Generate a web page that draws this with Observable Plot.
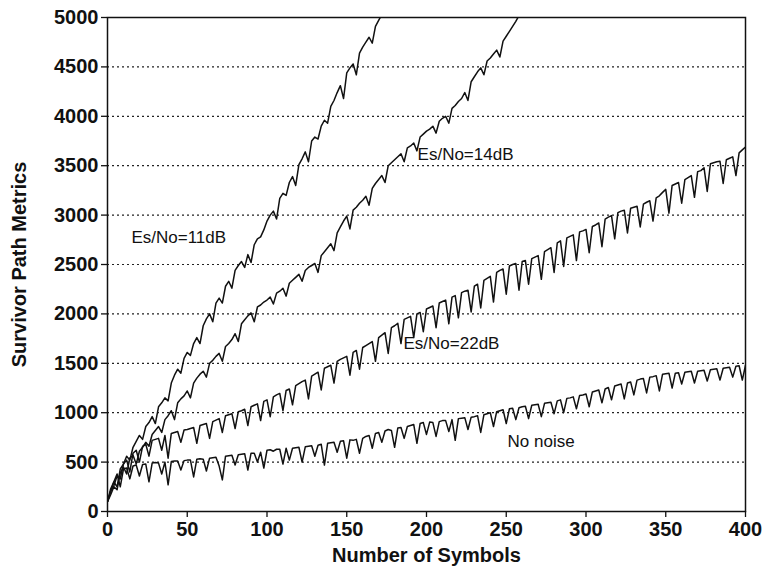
<!DOCTYPE html>
<html>
<head>
<meta charset="utf-8">
<script src="https://cdn.jsdelivr.net/npm/d3@7"></script>
<script src="https://cdn.jsdelivr.net/npm/@observablehq/plot@0.6"></script>
<style>
  body { margin: 0; background: #fff; }
</style>
</head>
<body>
<div id="chart"></div>
<script>
// Survivor path metric sampled every 2 symbols, one array per Es/No condition.
const symbolStep = 2;

const noNoise = [
  100, 230, 300, 380, 250, 430, 440, 330, 460, 470, 360,
  475, 480, 300, 490, 495, 490, 380, 500, 270, 505,
  510, 510, 420, 515, 520, 520, 350, 530, 535, 530,
  410, 540, 545, 550, 460, 320, 560, 565, 570, 470,
  575, 580, 585, 420, 590, 590, 500, 600, 440, 620,
  625, 610, 630, 630, 480, 640, 520, 640, 645, 650,
  500, 655, 660, 665, 560, 670, 680, 470, 690, 695,
  700, 600, 710, 715, 540, 725, 720, 730, 590, 740,
  760, 770, 640, 790, 800, 700, 815, 830, 820, 650,
  845, 850, 740, 860, 870, 880, 690, 890, 900, 780,
  905, 900, 760, 910, 920, 920, 810, 930, 720, 940,
  945, 950, 830, 955, 960, 970, 800, 980, 990, 1000,
  860, 1010, 1020, 1030, 890, 1040, 1045, 930, 1050, 1060,
  1065, 940, 1075, 1080, 1085, 960, 1095, 1100, 1105, 990,
  1120, 1130, 1000, 1145, 1150, 1160, 1040, 1175, 1180, 1190,
  1060, 1210, 1220, 1230, 1100, 1240, 1255, 1130, 1270, 1280,
  1290, 1140, 1300, 1310, 1180, 1330, 1340, 1345, 1200, 1360,
  1365, 1375, 1220, 1390, 1395, 1400, 1250, 1400, 1405, 1290,
  1410, 1415, 1420, 1300, 1420, 1425, 1430, 1320, 1435, 1440,
  1445, 1330, 1450, 1455, 1460, 1360, 1470, 1475, 1330, 1480
];

const esNo22 = [
  100, 200, 300, 250, 430, 480, 520, 400, 590, 620, 500,
  660, 680, 560, 720, 730, 740, 620, 770, 540, 790,
  800, 810, 700, 825, 830, 840, 850, 690, 870, 880,
  890, 740, 910, 925, 940, 800, 970, 980, 990, 840,
  1010, 1020, 1035, 870, 1060, 1075, 1090, 920, 1115, 1130,
  960, 1160, 1180, 1195, 1020, 1225, 1240, 1080, 1275, 1295,
  1315, 1330, 1140, 1370, 1390, 1410, 1230, 1450, 1465, 1480,
  1300, 1520, 1540, 1555, 1570, 1380, 1610, 1630, 1440, 1660,
  1680, 1700, 1720, 1520, 1760, 1785, 1810, 1600, 1860, 1880,
  1905, 1700, 1945, 1960, 1975, 1760, 2000, 2015, 1820, 2050,
  2065, 2080, 1860, 2110, 2125, 2140, 1900, 2170, 2185, 1960,
  2215, 2230, 2240, 2020, 2280, 2300, 2060, 2340, 2360, 2380,
  2120, 2420, 2440, 2455, 2200, 2485, 2500, 2510, 2240, 2530,
  2540, 2300, 2560, 2575, 2590, 2350, 2630, 2650, 2670, 2420,
  2720, 2740, 2480, 2770, 2785, 2800, 2540, 2830, 2840, 2855,
  2620, 2885, 2900, 2920, 2680, 2960, 2980, 2995, 2760, 3025,
  3040, 3050, 2820, 3070, 3080, 3090, 2880, 3110, 3130, 3145,
  2940, 3175, 3195, 3230, 3260, 3020, 3300, 3315, 3330, 3120,
  3360, 3380, 3400, 3180, 3440, 3450, 3480, 3240, 3520, 3530,
  3540, 3545, 3320, 3560, 3575, 3590, 3400, 3630, 3660, 3690
];

const esNo14 = [
  100, 170, 250, 220, 390, 450, 380, 540, 570, 480,
  610, 650, 700, 660, 780, 820, 860, 800, 930, 970,
  1020, 930, 1100, 1140, 1170, 1220, 1150, 1300, 1350, 1390,
  1420, 1360, 1500, 1530, 1570, 1600, 1520, 1670, 1700, 1740,
  1800, 1720, 1900, 1940, 1980, 2010, 1920, 2070, 2090, 2120,
  2140, 2170, 2100, 2210, 2230, 2260, 2180, 2310, 2340, 2370,
  2400, 2330, 2440, 2470, 2490, 2510, 2420, 2590, 2630, 2670,
  2710, 2640, 2820, 2880, 2940, 2990, 2860, 3050, 3080, 3120,
  3150, 3190, 3100, 3270, 3320, 3360, 3400, 3330, 3500, 3530,
  3560, 3590, 3620, 3540, 3680, 3700, 3730, 3650, 3790, 3820,
  3850, 3870, 3900, 3830, 3950, 3980, 4000, 3930, 4080, 4110,
  4150, 4180, 4240, 4160, 4350, 4400, 4450, 4490, 4420, 4560,
  4590, 4630, 4670, 4600, 4760, 4810, 4860, 4910, 4960, 5020
];

const esNo11 = [
  100, 210, 260, 360, 330, 480, 560, 520, 650, 710,
  770, 730, 860, 900, 960, 890, 1060, 1100, 1150, 1120,
  1300, 1380, 1440, 1400, 1550, 1610, 1580, 1700, 1760, 1700,
  1880, 1950, 2000, 1920, 2110, 2160, 2110, 2280, 2330, 2260,
  2440, 2490, 2530, 2470, 2600, 2520, 2700, 2760, 2780, 2850,
  2940, 3000, 3040, 2960, 3170, 3220, 3200, 3330, 3390, 3300,
  3510, 3570, 3640, 3540, 3750, 3790, 3770, 3900, 3960, 3930,
  4100, 4160, 4240, 4310, 4180, 4440, 4490, 4530, 4420, 4640,
  4700, 4750, 4800, 4740, 4910, 4970, 5030
];

const seriesNames = ["No noise", "Es/No=22dB", "Es/No=14dB", "Es/No=11dB"];
const seriesValues = [noNoise, esNo22, esNo14, esNo11];

const yTicks = [0, 500, 1000, 1500, 2000, 2500, 3000, 3500, 4000, 4500, 5000];
const xTicks = [0, 50, 100, 150, 200, 250, 300, 350, 400];
const gridLevels = [500, 1000, 1500, 2000, 2500, 3000, 3500, 4000, 4500];

// In-plot curve captions, anchored at their left edge
const captionText = ["Es/No=11dB", "Es/No=14dB", "Es/No=22dB", "No noise"];
const captionSymbol = [15, 194.4, 185.6, 250.8];
const captionMetric = [2770, 3610, 1700, 708];

const rows = seriesNames.flatMap((name, k) =>
  seriesValues[k].map((v, i) => ({series: name, symbol: i * symbolStep, metric: v}))
);
const captions = captionText.map((t, i) => ({text: t, symbol: captionSymbol[i], metric: captionMetric[i]}));

const chart = Plot.plot({
  width: 766,
  height: 576,
  marginLeft: 107,
  marginRight: 21,
  marginTop: 17,
  marginBottom: 65,
  style: {
    fontFamily: "'Liberation Sans', Arial, Helvetica, sans-serif",
    fontSize: "20px",
    fontWeight: "bold",
    color: "#111",
    background: "#fff"
  },
  x: {domain: [0, 400]},
  y: {domain: [0, 5000]},
  marks: [
    Plot.ruleY(gridLevels, {stroke: "#222", strokeWidth: 1.2, strokeDasharray: "2,3"}),
    Plot.line(rows, {x: "symbol", y: "metric", z: "series", stroke: "#111", strokeWidth: 1.5, clip: true}),
    Plot.frame({stroke: "#111", strokeWidth: 1.5}),
    Plot.axisY({ticks: yTicks, tickSize: 6, tickPadding: 3, tickFormat: d => String(d), label: null, strokeWidth: 1.3}),
    Plot.axisX({ticks: xTicks, tickSize: 6, tickPadding: 4, tickFormat: d => String(d), label: null, strokeWidth: 1.3}),
    Plot.text(captions, {x: "symbol", y: "metric", text: "text", textAnchor: "start", fontSize: 17, fontWeight: "normal", fill: "#111"}),
    Plot.text(["Number of Symbols"], {frameAnchor: "bottom", dy: 44, lineAnchor: "middle", textAnchor: "middle", fontSize: 20, fill: "#111"}),
    Plot.text(["Survivor Path Metrics"], {frameAnchor: "left", rotate: -90, dx: -88, lineAnchor: "middle", textAnchor: "middle", fontSize: 20, fill: "#111"})
  ]
});

document.getElementById("chart").appendChild(chart);
</script>
</body>
</html>
